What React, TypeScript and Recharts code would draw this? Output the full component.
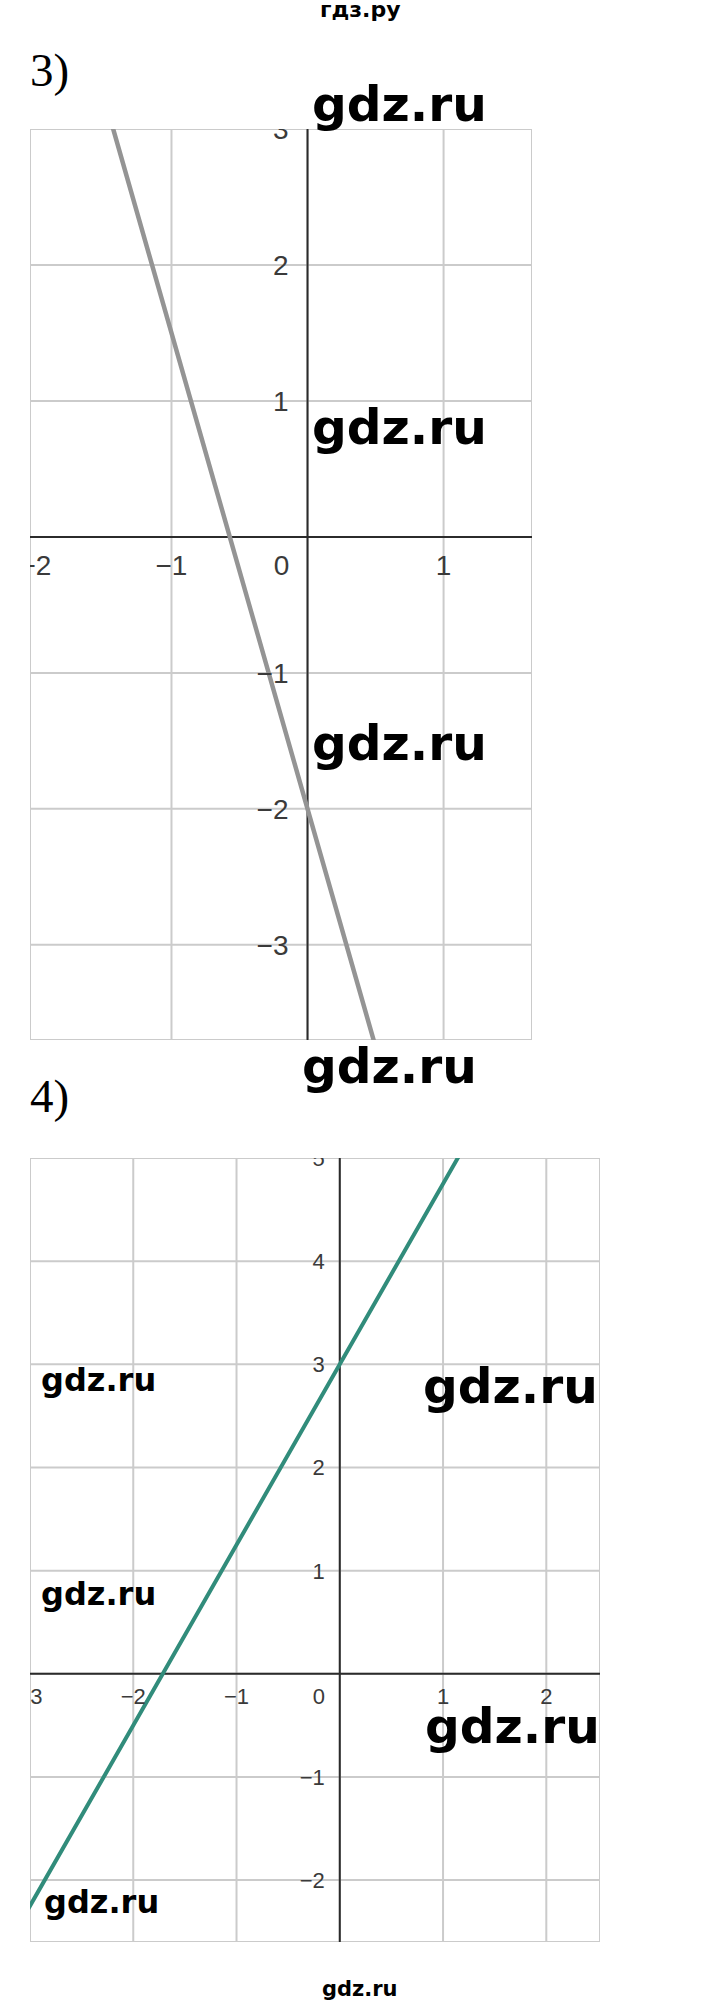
import { CartesianGrid, Line, LineChart, ReferenceDot, ReferenceLine, XAxis, YAxis } from "recharts";

// graph 3: y = -3.5x - 2
const xs3 = [-1.5, 0, 0.5];
const ys3 = [3.25, -2, -3.75];
const xTicks3 = [-2, -1, 0, 1];
const yTicks3 = [-3, -2, -1, 0, 1, 2, 3];

// graph 4: y = 1.75x + 3
const xs4 = [-3.2, 0, 1.2];
const ys4 = [-2.6, 3, 5.1];
const xTicks4 = [-3, -2, -1, 0, 1, 2];
const yTicks4 = [-2, -1, 0, 1, 2, 3, 4, 5];

const fmt = (v: number) => (v < 0 ? "\u2212" + Math.abs(v) : String(v));

type GraphProps = {
  xs: number[];
  ys: number[];
  xTicks: number[];
  yTicks: number[];
  xDomain: [number, number];
  yDomain: [number, number];
  width: number;
  height: number;
  color: string;
  lineWidth: number;
  fontSize: number;
  xLabelDy: number;
  zeroDx: number;
  yLabelDx: number;
  yLabelDy: number;
};

const Graph = (p: GraphProps) => {
  const data = p.xs.map((x, i) => ({ x, y: p.ys[i] }));
  const textStyle = { fontFamily: "'Liberation Sans', Arial, sans-serif", fontSize: p.fontSize, fill: "#3a3a3a" };

  return (
    <LineChart width={p.width} height={p.height} data={data} margin={{ top: 0, right: 0, bottom: 0, left: 0 }}>
      <CartesianGrid stroke="#cbcbcb" strokeWidth={2} />
      <XAxis type="number" dataKey="x" domain={p.xDomain} ticks={p.xTicks} allowDataOverflow hide />
      <YAxis type="number" domain={p.yDomain} ticks={p.yTicks} allowDataOverflow hide />
      <ReferenceLine x={0} stroke="#2b2b2b" strokeWidth={2} />
      <ReferenceLine y={0} stroke="#2b2b2b" strokeWidth={2} />
      {p.xTicks.map((t) => (
        <ReferenceDot
          key={"x" + t}
          x={t}
          y={0}
          r={0}
          ifOverflow="visible"
          label={(lp: any) => (
            <text
              x={lp.viewBox.x + (t === 0 ? p.zeroDx : 0)}
              y={lp.viewBox.y + p.xLabelDy}
              textAnchor="middle"
              style={textStyle}
            >
              {fmt(t)}
            </text>
          )}
        />
      ))}
      {p.yTicks
        .filter((t) => t !== 0)
        .map((t) => (
          <ReferenceDot
            key={"y" + t}
            x={0}
            y={t}
            r={0}
            ifOverflow="visible"
            label={(lp: any) => (
              <text x={lp.viewBox.x + p.yLabelDx} y={lp.viewBox.y + p.yLabelDy} textAnchor="end" style={textStyle}>
                {fmt(t)}
              </text>
            )}
          />
        ))}
      <Line type="linear" dataKey="y" stroke={p.color} strokeWidth={p.lineWidth} dot={false} isAnimationActive={false} />
    </LineChart>
  );
};

const wm = { fontFamily: "'DejaVu Sans', sans-serif", fontWeight: "bold" as const, fill: "#000" };

export default function App() {
  return (
    <div style={{ position: "absolute", left: 0, top: 0, width: 720, height: 2009, background: "#fff", overflow: "hidden" }}>
      <div style={{ position: "absolute", left: 30, top: 129 }}>
        <Graph
          xs={xs3}
          ys={ys3}
          xTicks={xTicks3}
          yTicks={yTicks3}
          xDomain={[-2.04, 1.65]}
          yDomain={[-3.7, 3]}
          width={502}
          height={911}
          color="#949494"
          lineWidth={4.5}
          fontSize={28}
          xLabelDy={38}
          zeroDx={-26}
          yLabelDx={-19}
          yLabelDy={10}
        />
      </div>
      <div style={{ position: "absolute", left: 30, top: 1158 }}>
        <Graph
          xs={xs4}
          ys={ys4}
          xTicks={xTicks4}
          yTicks={yTicks4}
          xDomain={[-3, 2.52]}
          yDomain={[-2.6, 5]}
          width={570}
          height={784}
          color="#318c7b"
          lineWidth={4}
          fontSize={22}
          xLabelDy={30}
          zeroDx={-21}
          yLabelDx={-15}
          yLabelDy={8}
        />
      </div>
      <svg width={720} height={2009} style={{ position: "absolute", left: 0, top: 0, pointerEvents: "none" }}>
        <text x={320} y={17} style={{ ...wm, fontSize: 22 }}>гдз.ру</text>
        <text x={30} y={86} style={{ fontFamily: "'Liberation Serif', serif", fontSize: 47, fill: "#000" }}>3)</text>
        <text x={312} y={121} style={{ ...wm, fontSize: 48.6 }}>gdz.ru</text>
        <text x={312} y={444} style={{ ...wm, fontSize: 48.6 }}>gdz.ru</text>
        <text x={312} y={760} style={{ ...wm, fontSize: 48.6 }}>gdz.ru</text>
        <text x={302} y={1083} style={{ ...wm, fontSize: 48.6 }}>gdz.ru</text>
        <text x={30} y={1112} style={{ fontFamily: "'Liberation Serif', serif", fontSize: 47, fill: "#000" }}>4)</text>
        <text x={41} y={1391} style={{ ...wm, fontSize: 32 }}>gdz.ru</text>
        <text x={423} y={1403} style={{ ...wm, fontSize: 48.6 }}>gdz.ru</text>
        <text x={41} y={1605} style={{ ...wm, fontSize: 32 }}>gdz.ru</text>
        <text x={425} y={1743} style={{ ...wm, fontSize: 48.6 }}>gdz.ru</text>
        <text x={44} y={1913} style={{ ...wm, fontSize: 32 }}>gdz.ru</text>
        <text x={322} y={1996} style={{ ...wm, fontSize: 21 }}>gdz.ru</text>
      </svg>
    </div>
  );
}
